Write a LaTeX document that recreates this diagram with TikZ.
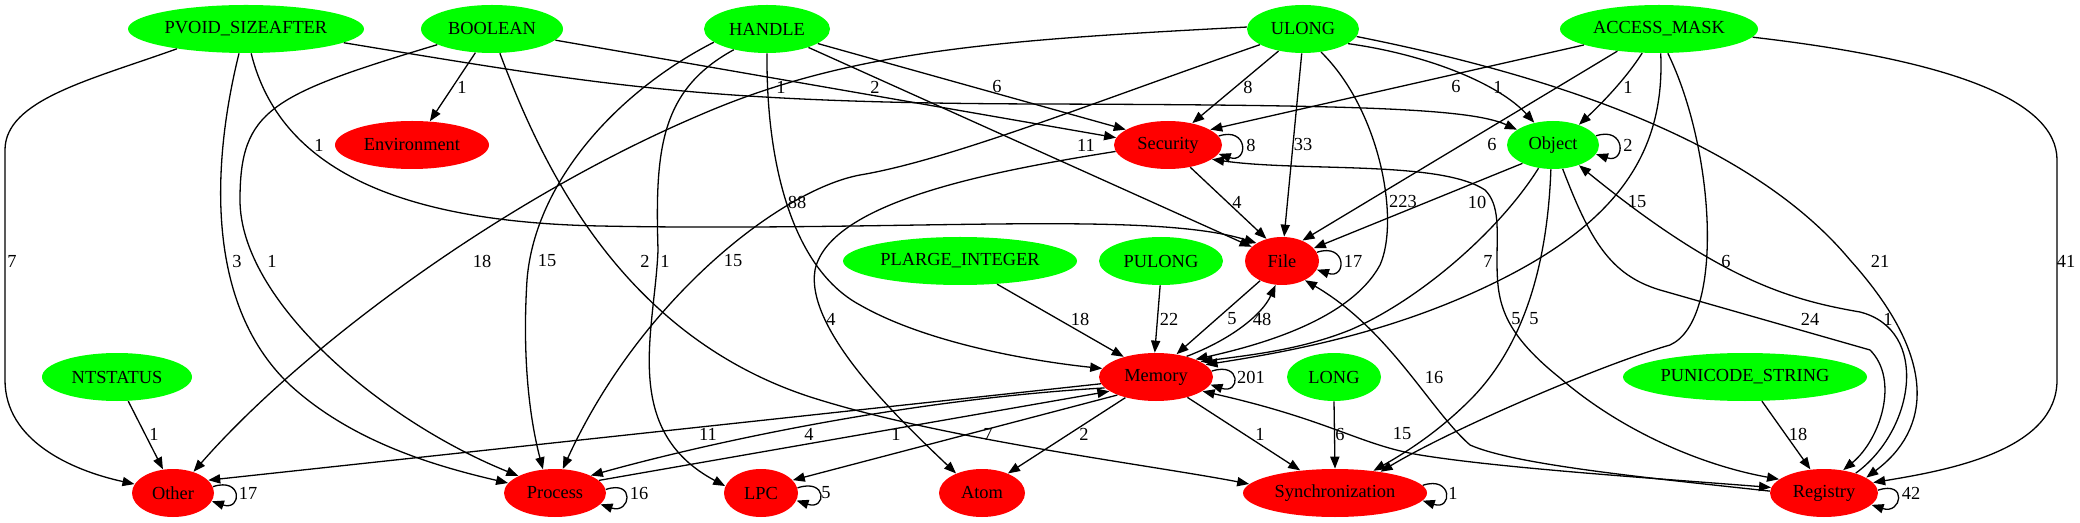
\documentclass[tikz,border=0pt]{standalone}
\usepackage{fontspec}
\setmainfont{Liberation Serif}
\usetikzlibrary{shapes.geometric,arrows.meta}
\definecolor{gvgreen}{RGB}{0,255,0}
\definecolor{gvred}{RGB}{255,0,0}
\begin{document}
\begin{tikzpicture}[x=0.5pt,y=-0.5pt,
  every node/.style={font=\fontsize{9.2}{11}\selectfont},
  gn/.style={ellipse,fill=gvgreen,inner sep=0pt,minimum height=24pt},
  rn/.style={ellipse,fill=gvred,inner sep=0pt,minimum height=24pt},
  lbl/.style={inner sep=0pt},
  arr/.style={line width=0.65pt,-{Triangle[length=6pt,width=4.6pt]}},
  arrb/.style={line width=0.65pt,{Triangle[length=6pt,width=4.6pt]}-{Triangle[length=6pt,width=4.6pt]}}]
\useasboundingbox (0,0) rectangle (2080,523);
% nodes
\node[gn,minimum width=118pt] (PV) at (246,29) {PVOID\_SIZEAFTER};
\node[gn,minimum width=71pt] (BO) at (492,29) {BOOLEAN};
\node[gn,minimum width=63pt] (HA) at (767,29) {HANDLE};
\node[gn,minimum width=56pt] (UL) at (1303,29) {ULONG};
\node[gn,minimum width=99pt] (AM) at (1659,29) {ACCESS\_MASK};
\node[rn,minimum width=77pt] (EN) at (412,145) {Environment};
\node[rn,minimum width=54pt] (SE) at (1168,145) {Security};
\node[gn,minimum width=46pt] (OB) at (1553,145) {Object};
\node[gn,minimum width=117pt] (PL) at (960,261) {PLARGE\_INTEGER};
\node[gn,minimum width=62pt] (PU) at (1161,261) {PULONG};
\node[rn,minimum width=37pt] (FI) at (1282,261) {File};
\node[gn,minimum width=75pt] (NT) at (117,377) {NTSTATUS};
\node[rn,minimum width=57pt] (ME) at (1156,377) {Memory};
\node[gn,minimum width=47pt] (LO) at (1334,377) {LONG};
\node[gn,minimum width=122pt] (PS) at (1745,377) {PUNICODE\_STRING};
\node[rn,minimum width=41pt] (OT) at (173,493) {Other};
\node[rn,minimum width=51pt] (PR) at (555,493) {Process};
\node[rn,minimum width=37pt] (LP) at (761,493) {LPC};
\node[rn,minimum width=43pt] (AT) at (982,493) {Atom};
\node[rn,minimum width=92pt] (SY) at (1335,493) {Synchronization};
\node[rn,minimum width=54pt] (RE) at (1824,493) {Registry};
% edges
\draw[arr] (PV.-164) .. controls (90,80) and (5,100) .. (5,150) -- (5,380) .. controls (5,440) and (70,470) .. (OT.167);
\draw[arr] (PV.-106) .. controls (215,150) and (200,300) .. (290,385) .. controls (350,440) and (430,465) .. (PR.168);
\draw[arr] (BO.-164) .. controls (270,95) and (240,110) .. (240,200) .. controls (240,300) and (380,420) .. (PR.155);
\draw[arr] (PV.-78) .. controls (280,170) and (400,222) .. (600,226) .. controls (900,232) and (1150,210) .. (FI.145);
\draw[arr] (PV.-8) .. controls (600,85) and (700,103) .. (1040,104) .. controls (1350,105) and (1470,108) .. (OB.157);
\draw[arr] (BO.-125) -- (EN.53);
\draw[arr] (BO.-10) -- (SE.172);
\draw[arr] (BO.-72) .. controls (540,160) and (620,340) .. (820,400) .. controls (950,440) and (1150,465) .. (SY.174);
\draw[arr] (HA.-16) -- (SE.160);
\draw[arr] (HA.-24) -- (FI.155);
\draw[arr] (HA.south) .. controls (766,170) and (795,270) .. (860,305) .. controls (930,345) and (1040,362) .. (ME.171);
\draw[arr] (HA.-166) .. controls (620,90) and (535,180) .. (527,280) .. controls (522,360) and (530,420) .. (PR.117);
\draw[arr] (HA.-148) .. controls (660,90) and (655,150) .. (658,250) .. controls (655,330) and (620,430) .. (LP.169);
\draw[arr] (UL.178) .. controls (1000,40) and (850,50) .. (700,115) .. controls (500,200) and (300,350) .. (OT.46);
\draw[arr] (UL.-160) .. controls (1100,100) and (950,160) .. (860,175) .. controls (780,190) and (640,300) .. (PR.72);
\draw[arr] (SE.-173) .. controls (1000,170) and (830,200) .. (815,270) .. controls (805,330) and (900,420) .. (AT.143);
\draw[arr] (UL.-138) -- (SE.42);
\draw[arr] (UL.-93) -- (FI.85);
\draw[arr] (UL.-52) .. controls (1380,110) and (1400,220) .. (1380,265) .. controls (1350,320) and (1260,345) .. (ME.24);
\draw[arr] (UL.-18) .. controls (1430,55) and (1500,85) .. (OB.130);
\draw[arr] (UL.-8) .. controls (1550,75) and (1750,140) .. (1850,260) .. controls (1940,360) and (1930,430) .. (RE.20);
\draw[arr] (AM.-168) -- (SE.20);
\draw[arr] (AM.-152) -- (FI.45);
\draw[arr] (AM.-125) .. controls (1625,80) and (1600,105) .. (OB.38);
\draw[arr] (AM.-86) .. controls (1665,150) and (1620,220) .. (1500,280) .. controls (1400,330) and (1300,350) .. (ME.14);
\draw[arr] (AM.-70) .. controls (1715,150) and (1725,320) .. (1670,345) .. controls (1600,365) and (1450,430) .. (SY.25);
\draw[arr] (AM.-5) .. controls (1950,60) and (2057,100) .. (2057,160) -- (2057,380) .. controls (2057,450) and (1950,470) .. (RE.12);
\draw[arr] (OB.-149) -- (FI.22);
\draw[arr] (OB.-122) .. controls (1500,230) and (1420,300) .. (1350,330) .. controls (1300,350) and (1250,355) .. (ME.19);
\draw[arr] (OB.-95) .. controls (1548,250) and (1530,340) .. (1470,400) .. controls (1440,430) and (1410,450) .. (SY.30);
\draw[arr] (OB.-68) .. controls (1590,240) and (1610,275) .. (1660,290) -- (1870,350) .. controls (1900,380) and (1880,440) .. (RE.50);
\draw[arr] (RE.32) .. controls (1915,430) and (1930,330) .. (1860,312) .. controls (1790,300) and (1720,280) .. (OB.-38);
\draw[arr] (SE.-45) -- (FI.125);
\draw[arrb] (SE.-18) .. controls (1300,172) and (1440,160) .. (1485,190) .. controls (1500,205) and (1497,230) .. (1497,260) .. controls (1497,300) and (1500,330) .. (1560,378) .. controls (1620,430) and (1700,465) .. (RE.163);
\draw[arr] (FI.-138) -- (ME.48);
\draw[arr] (ME.34) .. controls (1230,340) and (1262,315) .. (FI.-105);
\draw[arr] (PL.-32) -- (ME.148);
\draw[arr] (PU.-92) -- (ME.93);
\draw[arr] (ME.187) -- (OT.20);
\draw[arr] (ME.192) .. controls (900,400) and (700,445) .. (PR.26);
\draw[arr] (PR.16) -- (ME.197);
\draw[arr] (ME.205) -- (LP.22);
\draw[arr] (ME.-146) -- (AT.37);
\draw[arr] (ME.-33) -- (SY.147);
\draw[arr] (LO.south) -- (SY.north);
\draw[arrb] (ME.-17) .. controls (1330,420) and (1360,445) .. (1420,455) .. controls (1500,468) and (1650,478) .. (RE.174);
\draw[arr] (RE.178) .. controls (1650,478) and (1515,465) .. (1470,445) .. controls (1430,410) and (1390,330) .. (FI.-40);
\draw[arr] (PS.-55) -- (RE.120);
\draw[arr] (NT.-65) -- (OT.113);
% self loops
\draw[arr] (SE.10) .. controls +(30,-10) and +(30,10) .. (SE.-10);
\draw[arr] (OB.12) .. controls +(30,-10) and +(30,10) .. (OB.-12);
\draw[arr] (FI.14) .. controls +(30,-10) and +(30,10) .. (FI.-14);
\draw[arr] (ME.6) .. controls +(30,-10) and +(30,10) .. (ME.-8);
\draw[arr] (OT.9) .. controls +(30,-10) and +(30,10) .. (OT.-12);
\draw[arr] (PR.4) .. controls +(30,-10) and +(30,10) .. (PR.-14);
\draw[arr] (LP.8) .. controls +(30,-10) and +(30,10) .. (LP.-12);
\draw[arr] (SY.5) .. controls +(30,-10) and +(30,10) .. (SY.-5);
\draw[arr] (RE.3) .. controls +(30,-10) and +(30,10) .. (RE.-14);
% labels
\node[lbl] (l01) at (12,261) {7};
\node[lbl] (l02) at (237,261) {3};
\node[lbl] (l03) at (272,261) {1};
\node[lbl] (l04) at (319,145) {1};
\node[lbl] (l05) at (781,87) {1};
\node[lbl] (l06) at (462,87) {1};
\node[lbl] (l07) at (875,87) {2};
\node[lbl] (l08) at (997,87) {6};
\node[lbl] (l09) at (645,261) {2};
\node[lbl] (l10) at (547,261) {15};
\node[lbl] (l11) at (665,261) {1};
\node[lbl] (l12) at (733,261) {15};
\node[lbl] (l13) at (797,202) {88};
\node[lbl] (l14) at (1086,145) {11};
\node[lbl] (l15) at (482,261) {18};
\node[lbl] (l16) at (831,319) {4};
\node[lbl] (l17) at (1248,87) {8};
\node[lbl] (l18) at (1303,145) {33};
\node[lbl] (l19) at (1403,202) {223};
\node[lbl] (l20) at (1498,87) {1};
\node[lbl] (l21) at (1880,261) {21};
\node[lbl] (l22) at (1456,87) {6};
\node[lbl] (l23) at (1492,145) {6};
\node[lbl] (l24) at (1628,87) {1};
\node[lbl] (l25) at (1637,202) {15};
\node[lbl] (l26) at (1726,261) {6};
\node[lbl] (l27) at (2066,261) {41};
\node[lbl] (l28) at (1477,202) {10};
\node[lbl] (l29) at (1488,261) {7};
\node[lbl] (l30) at (1534,319) {5};
\node[lbl] (l31) at (1516,319) {5};
\node[lbl] (l32) at (1810,319) {24};
\node[lbl] (l33) at (1888,319) {1};
\node[lbl] (l34) at (1237,202) {4};
\node[lbl] (l35) at (1232,319) {5};
\node[lbl] (l36) at (1262,319) {48};
\node[lbl] (l37) at (1080,319) {18};
\node[lbl] (l38) at (1169,319) {22};
\node[lbl] (l39) at (708,434) {11};
\node[lbl] (l40) at (809,434) {4};
\node[lbl] (l41) at (896,434) {1};
\node[lbl] (l42) at (988,434) {7};
\node[lbl] (l43) at (1084,434) {2};
\node[lbl] (l44) at (1260,434) {1};
\node[lbl] (l45) at (1340,434) {6};
\node[lbl] (l46) at (1402,434) {15};
\node[lbl] (l47) at (1434,377) {16};
\node[lbl] (l48) at (1798,434) {18};
\node[lbl] (l49) at (154,434) {1};
\node[lbl] (l50) at (1251,145) {8};
\node[lbl] (l51) at (1628,145) {2};
\node[lbl] (l52) at (1353,261) {17};
\node[lbl] (l53) at (1251,377) {201};
\node[lbl] (l54) at (248,493) {17};
\node[lbl] (l55) at (639,493) {16};
\node[lbl] (l56) at (826,493) {5};
\node[lbl] (l57) at (1453,493) {1};
\node[lbl] (l58) at (1911,493) {42};
\end{tikzpicture}
\end{document}
